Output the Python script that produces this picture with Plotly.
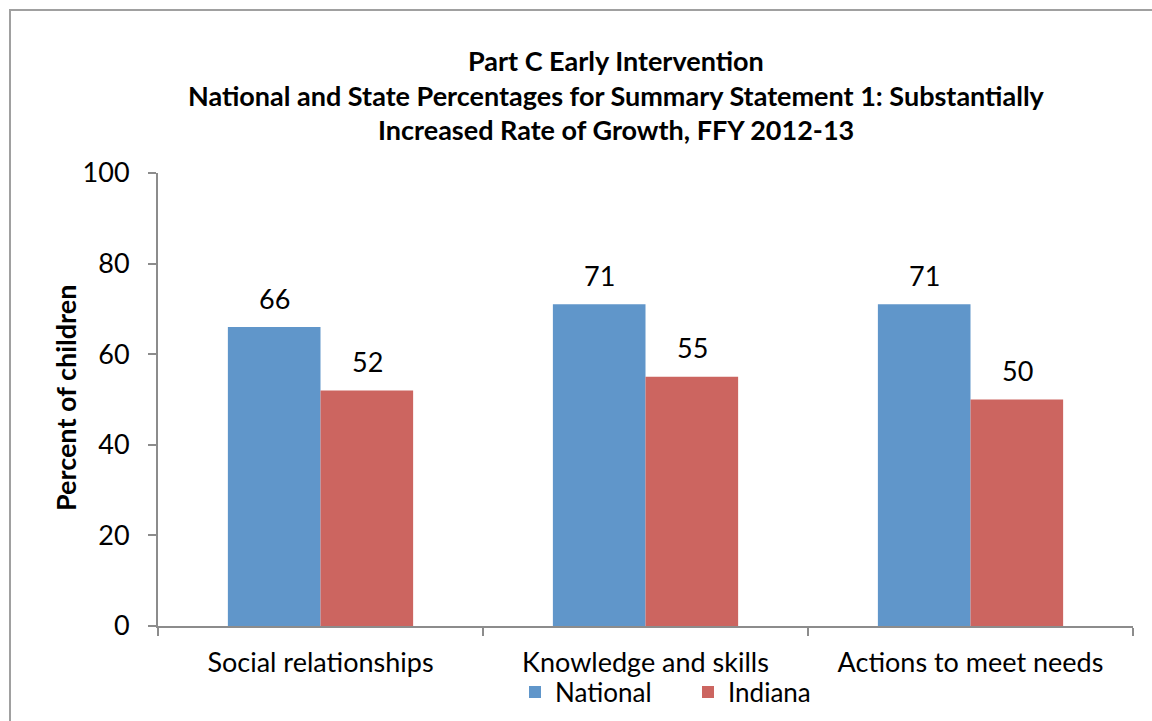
import plotly.graph_objects as go

categories = ["Social relationships", "Knowledge and skills", "Actions to meet needs"]
national = [66, 71, 71]
indiana = [52, 55, 50]
series_names = ["National", "Indiana"]
y_ticks = [0, 20, 40, 60, 80, 100]
title_lines = [
    "Part C Early Intervention",
    "National and State Percentages for Summary Statement 1: Substantially",
    "Increased Rate of Growth, FFY 2012-13",
]

BLUE = "#6096CA"
RED = "#CC6560"
FONT = "Lato"
FS = 27
W, H = 1152, 721
L, R, T, B = 158, 19, 173, 95
pw, ph = W - L - R, H - T - B

fig = go.Figure()
fig.add_trace(go.Bar(x=categories, y=national, name=series_names[0],
                     marker=dict(color=BLUE, line=dict(width=0))))
fig.add_trace(go.Bar(x=categories, y=indiana, name=series_names[1],
                     marker=dict(color=RED, line=dict(width=0))))

def px_x(p):
    return (p - L) / pw

def px_y(p):
    return (H - B - p) / ph

annotations = []
# value labels above each bar
for vals, shift in ((national, -46.5), (indiana, 46.5)):
    for c, v in zip(categories, vals):
        annotations.append(dict(x=c, y=v, xref="x", yref="y", text=str(v),
                                showarrow=False, xshift=shift, yshift=29,
                                yanchor="middle",
                                font=dict(family=FONT, size=FS, color="#000")))
# title, three centred lines
for i, line in enumerate(title_lines):
    annotations.append(dict(x=px_x(616), y=px_y(60 + 35 * i), xref="paper", yref="paper",
                            text="<b>" + line + "</b>", showarrow=False,
                            xanchor="center", yanchor="middle",
                            font=dict(family=FONT, size=FS, color="#000")))
# y axis title
annotations.append(dict(x=px_x(65), y=px_y(398), xref="paper", yref="paper",
                        text="<b>Percent of children</b>", textangle=-90,
                        showarrow=False, xanchor="center", yanchor="middle",
                        font=dict(family=FONT, size=FS, color="#000")))

fig.update_layout(
    width=W, height=H,
    margin=dict(l=L, r=R, t=T, b=B, pad=0, autoexpand=False),
    paper_bgcolor="white", plot_bgcolor="white",
    barmode="group", bargap=0.43, bargroupgap=0,
    showlegend=True,
    legend=dict(orientation="h", x=px_x(515), xanchor="left",
                y=px_y(692), yanchor="middle",
                font=dict(family=FONT, size=FS - 1, color="#000"),
                itemwidth=30, entrywidth=128, entrywidthmode="pixels",
                tracegroupgap=0, bgcolor="rgba(0,0,0,0)"),
    annotations=annotations,
    shapes=[dict(type="rect", xref="paper", yref="paper",
                 x0=px_x(10), x1=px_x(1170), y0=px_y(740), y1=px_y(10),
                 line=dict(color="#A0A0A0", width=2), fillcolor="rgba(0,0,0,0)",
                 layer="below")],
)

fig.update_xaxes(type="category", showline=True, linecolor="#8C8C8C", linewidth=2,
                 ticks="outside", tickson="boundaries", ticklen=8, tickcolor="#8C8C8C",
                 tickwidth=2, showgrid=False, zeroline=False, ticklabelstandoff=12,
                 tickfont=dict(family=FONT, size=FS, color="#000"), automargin=False)
fig.update_yaxes(range=[0, 100], tickvals=y_ticks, showline=True, linecolor="#8C8C8C",
                 linewidth=2, ticks="outside", ticklen=8, tickcolor="#8C8C8C", tickwidth=2,
                 showgrid=False, zeroline=False, ticklabelstandoff=13,
                 tickfont=dict(family=FONT, size=FS, color="#000"), automargin=False)

fig.write_html("out.html")
